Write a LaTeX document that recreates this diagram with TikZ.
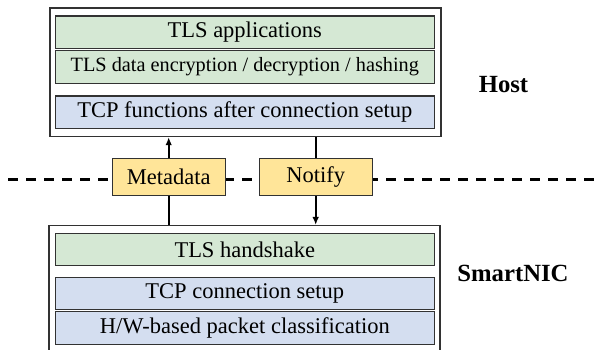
\documentclass[tikz,border=0pt]{standalone}
\usepackage{fontspec}
\setmainfont{Liberation Serif}
\usetikzlibrary{arrows.meta}
\definecolor{lgreen}{RGB}{213,232,212}
\definecolor{lblue}{RGB}{212,222,240}
\definecolor{lyellow}{RGB}{255,229,153}
\definecolor{edge}{RGB}{50,50,50}
\tikzset{
  layer/.style={draw=edge, line width=1.1pt, inner sep=0pt, minimum width=379pt, minimum height=32.4pt, font=\fontsize{22.5}{27}\selectfont},
  greenlayer/.style={layer, fill=lgreen},
  bluelayer/.style={layer, fill=lblue},
  outerbox/.style={draw=edge, line width=1.2pt, fill=white, inner sep=0pt},
  msgbox/.style={draw=edge, line width=1.1pt, fill=lyellow, inner sep=0pt, minimum width=113.3pt, minimum height=36.7pt, font=\fontsize{22.5}{27}\selectfont},
  sidelabel/.style={font=\fontsize{24.7}{29}\selectfont\bfseries, inner sep=0pt},
  conn/.style={line width=1.8pt},
  tip/.style={-{Latex[length=8pt,width=6.5pt]}},
  sep/.style={line width=2.6pt, dash pattern=on 9.5pt off 8.5pt}
}
\begin{document}
\begin{tikzpicture}[x=1pt,y=-1pt]
\useasboundingbox (0,0) rectangle (595,350);
\clip (0,0) rectangle (595,350);
\fill[white] (0,0) rectangle (595,350);
% separator line
\coordinate (sepL) at (8,179.3);
\coordinate (sepR) at (600,179.3);
\draw[sep] (sepL) -- (sepR);
% host
\node[outerbox, minimum width=391pt, minimum height=128.5pt] (host) at (245.5,72.25) {};
\node[greenlayer] (tlsapp) at (244.8,32.25) {TLS applications};
\node[greenlayer, font=\fontsize{20.3}{24}\selectfont] (tlsdata) at (244.8,67) {TLS data encryption / decryption / hashing};
\node[bluelayer] (tcpfun) at (244.8,112.2) {TCP functions after connection setup};
\node[sidelabel] (hostlbl) at (503.5,84.5) {Host};
% smartnic
\node[outerbox, minimum width=391pt, minimum height=160pt, anchor=north] (nic) at (244.5,225) {};
\node[greenlayer] (tlshs) at (244.8,249.5) {TLS handshake};
\node[bluelayer] (tcpconn) at (244.8,293.7) {TCP connection setup};
\node[bluelayer] (hwcls) at (244.8,327.9) {H/W-based packet classification};
\node[sidelabel] (niclbl) at (513,273) {SmartNIC};
% message boxes
\node[msgbox] (meta) at (168.7,177.3) {Metadata};
\node[msgbox] (notify) at (315.7,177.3) {Notify};
% connectors
\draw[conn, tip] (meta.north) -- (meta.north |- host.south);
\draw[conn] (meta.south) -- (meta.south |- nic.north);
\draw[conn] (notify.north) -- (notify.north |- host.south);
\draw[conn, tip] (notify.south) -- (notify.south |- nic.north);
\end{tikzpicture}
\end{document}
